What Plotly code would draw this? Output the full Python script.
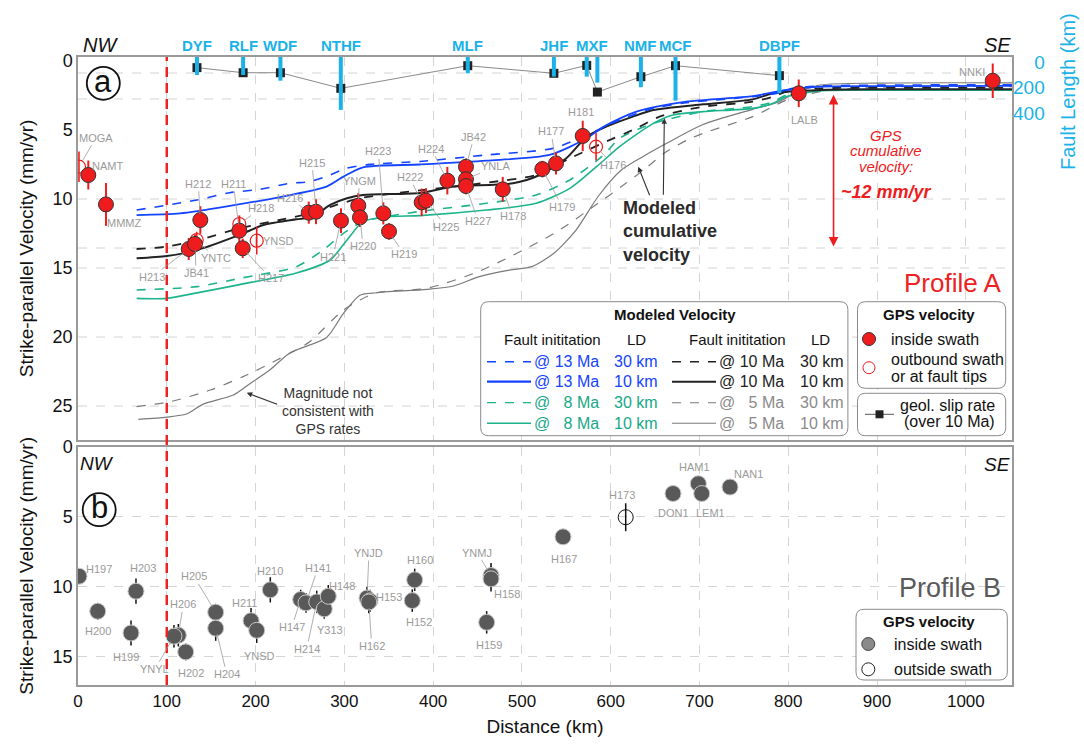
import plotly.graph_objects as go

# ---------------- DATA ----------------
# Faults (Profile A): position along profile (km), geological slip rate (mm/yr), fault length (km)
fault_names = ["DYF", "RLF", "WDF", "NTHF", "MLF", "JHF", "MXF", "MXF", "NMF", "MCF", "DBPF"]
fault_dist = [134, 186, 228, 296, 439, 536, 573, 585, 634, 673, 790]
fault_slip = [0.48, 0.85, 0.85, 1.98, 0.34, 0.89, 0.32, 2.25, 1.14, 0.34, 1.06]
fault_len = [102, 102, 147, 376, 89, 115, 115, 162, 198, 303, 245]

# Profile A GPS stations
a_names = ["MOGA", "NAMT", "MMMZ", "H212", "H213", "JB41", "YNTC", "H211", "H218", "H217", "YNSD",
           "H216", "H215", "H221", "YNGM", "H220", "H223", "H219", "H222", "H225", "H224", "JB42",
           "YNLA", "H227", "H178", "H179", "H177", "H181", "H176", "LALB", "NNKI"]
a_dist = [1.1, 11.6, 31.5, 137.8, 124.7, 131.8, 133.7, 181.7, 181.7, 185.5, 201.3,
          259.9, 268.1, 296.2, 315.7, 317.6, 343.9, 350.3, 387.1, 392.0, 416.0, 437.0,
          437.0, 437.0, 478.4, 523.0, 538.4, 568.5, 583.5, 811.8, 1030.3]
a_vel = [7.66, 8.26, 10.39, 11.52, 13.62, 13.26, 12.97, 12.29, 11.81, 13.57, 13.02,
         10.99, 10.92, 11.57, 10.48, 11.33, 11.04, 12.35, 10.24, 10.12, 8.67, 7.66,
         8.57, 9.06, 9.30, 7.83, 7.42, 5.43, 6.21, 2.34, 1.43]
a_err = [1.1, 1.05, 1.55, 1.0, 0.8, 0.7, 0.6, 1.1, 0.5, 0.7, 1.0,
         0.8, 0.9, 0.9, 0.9, 0.7, 0.8, 0.6, 1.0, 0.9, 1.0, 0.6,
         0.5, 0.6, 0.9, 0.6, 0.8, 1.1, 1.0, 1.0, 1.25]
a_inside = [0, 1, 1, 1, 1, 1, 0, 1, 0, 1, 0,
            1, 1, 1, 1, 1, 1, 1, 1, 1, 1, 1,
            1, 1, 1, 1, 1, 1, 0, 1, 1]

# Profile B GPS stations
b_names = ["H197", "H200", "H203", "H199", "H206", "YNYL", "H202", "H205", "H204", "H211", "YNSD",
           "H210", "H147", "H141", "H214", "Y313", "H148", "YNJD", "H153", "H162", "H152", "H160",
           "YNMJ", "H158", "H159", "H167", "H173", "DON1", "HAM1", "LEM1", "NAN1"]
b_dist = [1.1, 22.2, 65.3, 59.7, 113.0, 108.1, 121.3, 155.1, 155.1, 194.9, 201.3,
          216.6, 250.8, 256.8, 268.9, 277.4, 281.9, 325.5, 328.8, 327.5, 376.5, 379.2,
          465.2, 465.2, 460.3, 546.3, 616.9, 670.2, 698.7, 702.5, 734.4]
b_vel = [9.24, 11.74, 10.31, 13.29, 13.45, 13.52, 14.64, 11.81, 12.95, 12.41, 13.10,
         10.21, 10.90, 11.14, 11.07, 11.57, 10.67, 10.80, 11.00, 11.08, 10.98, 9.50,
         9.19, 9.43, 12.53, 6.43, 5.03, 3.34, 2.64, 3.34, 2.88]
b_err = [0.5, 0.6, 0.9, 0.9, 0.8, 0.8, 0.6, 0.6, 0.9, 0.9, 0.9,
         0.9, 0.7, 0.7, 0.8, 0.7, 0.8, 0.8, 0.8, 0.8, 0.8, 0.8,
         0.9, 0.9, 0.8, 0.5, 1.0, 0.2, 0.3, 0.3, 0.5]
b_inside = [1] * 26 + [0] + [1] * 4

# Modeled cumulative velocity (fault initiation age / locking depth)
m13_30_x = [66, 134, 171, 205, 239, 261, 284, 302, 329, 385, 460, 535, 573, 610, 648, 685, 760, 790, 805, 836, 900, 1052]
m13_30_v = [10.8, 10.07, 9.54, 9.3, 8.86, 8.74, 8.26, 7.78, 7.49, 7.28, 6.81, 6.33, 5.36, 4.28, 3.43, 3.02, 2.58, 2.3, 1.98, 1.81, 1.75, 1.72]
m13_10_x = [66, 115, 171, 239, 280, 299, 321, 385, 460, 531, 573, 592, 629, 685, 760, 798, 836, 900, 1052]
m13_10_v = [11.16, 11.04, 10.5, 9.71, 9.1, 8.38, 7.7, 7.5, 7.22, 6.81, 5.6, 4.76, 3.67, 2.95, 2.54, 2.1, 1.86, 1.82, 1.8]
m10_30_x = [66, 100, 134, 182, 227, 265, 291, 321, 385, 460, 516, 554, 592, 629, 655, 704, 760, 783, 798, 836, 900, 1052]
m10_30_v = [13.62, 13.45, 13.0, 12.12, 11.52, 10.99, 10.43, 9.9, 9.38, 8.82, 8.26, 7.05, 5.92, 4.88, 4.03, 3.31, 2.95, 2.58, 2.22, 1.98, 1.95, 1.95]
m10_10_x = [66, 100, 134, 182, 209, 246, 265, 284, 303, 321, 385, 423, 490, 520, 550, 573, 595, 625, 648, 704, 760, 783, 836, 900, 1052]
m10_10_v = [14.3, 14.13, 13.7, 12.6, 11.88, 11.47, 11.28, 10.43, 9.95, 9.71, 9.56, 9.1, 8.86, 8.26, 7.05, 5.49, 4.76, 4.03, 3.55, 3.14, 2.78, 2.34, 2.1, 2.05, 2.05]
m8_30_x = [66, 134, 182, 246, 276, 299, 321, 385, 460, 516, 554, 592, 610, 648, 704, 760, 783, 798, 836, 900, 1052]
m8_30_v = [16.59, 16.35, 15.75, 14.9, 13.7, 12.49, 11.64, 10.9, 10.31, 9.71, 8.62, 6.81, 5.6, 4.52, 3.67, 3.31, 2.95, 2.46, 2.15, 2.1, 2.1]
m8_10_x = [66, 100, 134, 182, 246, 284, 303, 321, 348, 385, 460, 516, 554, 584, 610, 648, 670, 704, 760, 783, 798, 836, 900, 1052]
m8_10_v = [17.2, 17.2, 16.8, 16.2, 15.36, 14.42, 12.97, 11.64, 11.28, 11.2, 10.8, 10.31, 9.23, 7.66, 6.21, 4.52, 3.91, 3.67, 3.43, 3.07, 2.58, 2.15, 2.12, 2.12]
m5_30_x = [66, 104, 149, 186, 224, 261, 299, 336, 393, 453, 536, 586, 612, 637, 662, 687, 704, 760, 798, 836, 900, 1052]
m5_30_v = [25.04, 24.68, 23.84, 22.87, 21.67, 20.34, 18.04, 16.79, 16.47, 15.2, 12.5, 10.3, 9.1, 7.9, 6.6, 5.7, 5.24, 4.03, 2.83, 2.22, 1.9, 1.85]
m5_10_x = [68, 100, 122, 141, 175, 194, 216, 239, 280, 299, 318, 336, 393, 423, 453, 486, 511, 536, 561, 586, 612, 637, 662, 704, 760, 790, 805, 836, 900, 1052]
m5_10_v = [25.96, 25.8, 25.58, 24.86, 24.2, 23.36, 22.39, 21.14, 20.03, 18.29, 16.96, 16.79, 16.54, 16.3, 15.6, 15.15, 14.9, 13.93, 12.25, 9.8, 7.9, 6.9, 6.0, 4.6, 3.5, 2.95, 2.39, 1.74, 1.6, 1.58]

# ---------------- STYLE / LAYOUT HELPERS ----------------
FONT = "Liberation Sans, Arial, sans-serif"
BLUE, BLACK, GREEN, GRAY = "#1444ff", "#222222", "#1db48c", "#7a7a7a"
RED, CYAN, LBL = "#ee1c1c", "#1ab2e8", "#9a9a9a"
L, R, T, B, W, H = 78, 72, 57, 59, 1084, 744
PW, PH = W - L - R, H - T - B


def PX(px):
    return (px - L) / PW


def PY(py):
    return (H - B - py) / PH


# label offsets in pixels (dx, dy, leader line)
a_lab = {"MOGA": (17, -29, 1), "NAMT": (19, -9, 0), "MMMZ": (18, 19, 0), "H212": (-2, -36, 1),
         "H211": (-6, -47, 1), "H218": (22, -16, 1), "H213": (-37, 28, 1), "JB41": (1, 29, 1),
         "YNTC": (19, 18, 1), "H217": (28, 30, 1), "YNSD": (22, 0, 0), "H216": (-19, -15, 1),
         "H215": (-4, -49, 1), "H221": (-8, 36, 1), "YNGM": (1, -25, 1), "H220": (3, 29, 1),
         "H223": (-5, -62, 1), "H219": (15, 23, 1), "H222": (-12, -25, 1), "H225": (20, 26, 1),
         "H224": (-16, -32, 1), "JB42": (8, -30, 1), "YNLA": (30, -13, 1), "H227": (12, 35, 1),
         "H178": (10, 27, 1), "H179": (20, 38, 1), "H177": (-5, -32, 1), "H181": (-2, -24, 0),
         "H176": (17, 18, 1), "LALB": (6, 27, 0), "NNKI": (-21, -9, 0)}
b_lab = {"H197": (20, -7, 0), "H200": (0, 20, 0), "H203": (7, -23, 0), "H199": (-5, 24, 0),
         "H206": (5, -31, 1), "YNYL": (-19, 33, 1), "H202": (5, 21, 0), "H205": (-22, -36, 1),
         "H204": (11, 46, 1), "H211": (-7, -18, 0), "YNSD": (3, 26, 0), "H210": (0, -19, 0),
         "H147": (-9, 28, 1), "H141": (12, -35, 1), "H214": (-10, 47, 1), "Y313": (6, 21, 0),
         "H148": (14, -10, 0), "YNJD": (2, -45, 1), "H153": (19, -4, 0), "H162": (3, 44, 1),
         "H152": (7, 21, 0), "H160": (5, -20, 0), "YNMJ": (-14, -23, 1), "H158": (16, 15, 0),
         "H159": (2, 23, 0), "H167": (1, 22, 0), "H173": (-4, -22, 0), "DON1": (0, 19, 0),
         "HAM1": (-4, -17, 0), "LEM1": (9, 19, 0), "NAN1": (18, -13, 0)}

fig = go.Figure()

# fault length bars (right axis)
FL_TOP = -39
bx, by = [], []
for xd, ln in zip(fault_dist, fault_len):
    bx += [xd, xd, None]
    by += [FL_TOP, ln, None]
fig.add_trace(go.Scatter(x=bx, y=by, mode="lines", line=dict(color=CYAN, width=4),
                         xaxis="x", yaxis="y3", hoverinfo="skip", showlegend=False))

# geological slip rates
fig.add_trace(go.Scatter(x=fault_dist, y=fault_slip, mode="lines+markers",
                         line=dict(color="#8a8a8a", width=1),
                         marker=dict(symbol="square", size=9, color="#222222"),
                         xaxis="x", yaxis="y", hoverinfo="skip", showlegend=False))

models = [
    (m5_30_x, m5_30_v, GRAY, "dash", 1.2),
    (m5_10_x, m5_10_v, GRAY, "solid", 1.2),
    (m8_30_x, m8_30_v, GREEN, "dash", 1.6),
    (m8_10_x, m8_10_v, GREEN, "solid", 1.6),
    (m10_30_x, m10_30_v, BLACK, "dash", 1.8),
    (m10_10_x, m10_10_v, BLACK, "solid", 2.0),
    (m13_30_x, m13_30_v, BLUE, "dash", 1.6),
    (m13_10_x, m13_10_v, BLUE, "solid", 1.8),
]
for x, v, c, d, w in models:
    fig.add_trace(go.Scatter(x=x, y=v, mode="lines",
                             line=dict(color=c, dash=d, width=w, shape="spline", smoothing=0.7),
                             xaxis="x", yaxis="y", hoverinfo="skip", showlegend=False))


def sel(lst, flags, val):
    return [e for e, f in zip(lst, flags) if f == val]


# Profile A points
fig.add_trace(go.Scatter(x=sel(a_dist, a_inside, 0), y=sel(a_vel, a_inside, 0), mode="markers",
                         error_y=dict(type="data", array=sel(a_err, a_inside, 0), color=RED, thickness=1.6, width=0),
                         marker=dict(size=13, color="rgba(0,0,0,0)", line=dict(color=RED, width=1.2)),
                         xaxis="x", yaxis="y", hoverinfo="skip", showlegend=False))
fig.add_trace(go.Scatter(x=sel(a_dist, a_inside, 1), y=sel(a_vel, a_inside, 1), mode="markers",
                         error_y=dict(type="data", array=sel(a_err, a_inside, 1), color=RED, thickness=2, width=0),
                         marker=dict(size=15, color=RED, line=dict(color="#333333", width=1)),
                         xaxis="x", yaxis="y", hoverinfo="skip", showlegend=False))

# Profile B points
fig.add_trace(go.Scatter(x=sel(b_dist, b_inside, 1), y=sel(b_vel, b_inside, 1), mode="markers",
                         error_y=dict(type="data", array=sel(b_err, b_inside, 1), color="#111111", thickness=1.5, width=0),
                         marker=dict(size=16, color="#595959", line=dict(color="#c8c8c8", width=1)),
                         xaxis="x2", yaxis="y2", hoverinfo="skip", showlegend=False))
fig.add_trace(go.Scatter(x=sel(b_dist, b_inside, 0), y=sel(b_vel, b_inside, 0), mode="markers",
                         error_y=dict(type="data", array=sel(b_err, b_inside, 0), color="#111111", thickness=1.5, width=0),
                         marker=dict(size=15, color="rgba(255,255,255,0)", line=dict(color="#111111", width=1)),
                         xaxis="x2", yaxis="y2", hoverinfo="skip", showlegend=False))

ann = []
shapes = []

# station labels
for n, xd, v in zip(a_names, a_dist, a_vel):
    dx, dy, lead = a_lab[n]
    ann.append(dict(x=xd, y=v, xref="x", yref="y", text=n, showarrow=True, arrowhead=0,
                    arrowwidth=0.8, arrowcolor=LBL if lead else "rgba(0,0,0,0)", standoff=6,
                    ax=dx, ay=dy, font=dict(size=11, color=LBL, family=FONT)))
for n, xd, v in zip(b_names, b_dist, b_vel):
    dx, dy, lead = b_lab[n]
    ann.append(dict(x=xd, y=v, xref="x2", yref="y2", text=n, showarrow=True, arrowhead=0,
                    arrowwidth=0.8, arrowcolor=LBL if lead else "rgba(0,0,0,0)", standoff=6,
                    ax=dx, ay=dy, font=dict(size=11, color=LBL, family=FONT)))


def txt(s, px, py, size=15, color="#111111", anchor="center", bold=False, italic=False, angle=0):
    if bold:
        s = "<b>%s</b>" % s
    if italic:
        s = "<i>%s</i>" % s
    ann.append(dict(x=PX(px), y=PY(py), xref="paper", yref="paper", xanchor=anchor, yanchor="middle",
                    text=s, showarrow=False, textangle=angle,
                    font=dict(size=size, color=color, family=FONT)))


# fault names
seen = set()
for n, xd in zip(fault_names, fault_dist):
    if n in seen:
        continue
    seen.add(n)
    xs = [d for nn, d in zip(fault_names, fault_dist) if nn == n]
    ann.append(dict(x=sum(xs) / len(xs), y=PY(45), xref="x", yref="paper", text="<b>%s</b>" % n,
                    xanchor="center", yanchor="middle",
                    showarrow=False, font=dict(size=15, color=CYAN, family=FONT)))

# direction labels & panel letters
txt("NW", 100, 45, 20, italic=True)
txt("SE", 997, 45, 20, italic=True)
txt("NW", 97, 463, 19, italic=True)
txt("SE", 997, 464, 19, italic=True)
for s, px, py in [("a", 103.3, 83.3), ("b", 99.2, 509.7)]:
    shapes.append(dict(type="circle", xref="paper", yref="paper", xsizemode="pixel", ysizemode="pixel",
                       xanchor=PX(px), yanchor=PY(py), x0=-16.5, x1=16.5, y0=-16.5, y1=16.5,
                       line=dict(color="#111111", width=1.8)))
    txt(s, px, py - 2, 31)

# profile names
txt("Profile A", 1003, 283, 26, "#ee2222", anchor="right")
txt("Profile B", 1003, 588, 27, "#5a5a5a", anchor="right")

# GPS cumulative velocity annotation
txt("GPS", 886, 135, 15, RED, italic=True)
txt("cumulative", 886, 150.5, 15, RED, italic=True)
txt("velocity:", 886, 166, 15, RED, italic=True)
txt("<b><i>~12 mm/yr</i></b>", 886, 192, 18, RED)
ann.append(dict(x=851, y=2.45, xref="x", yref="y", ax=851, ay=13.55, axref="x", ayref="y", text="",
                showarrow=True, arrowhead=2, startarrowhead=2, arrowside="end+start", arrowsize=1.2,
                arrowwidth=1.6, arrowcolor=RED))

# modeled cumulative velocity note
ann.append(dict(x=PX(621), y=PY(231), xref="paper", yref="paper", xanchor="left", yanchor="middle",
                text="<b>Modeled<br>cumulative<br>velocity</b>", align="left", showarrow=False,
                font=dict(size=18, color="#2a2a2a", family=FONT)))
ann.append(dict(x=631, y=7.66, xref="x", yref="y", ax=12, ay=30, text="", showarrow=True,
                arrowhead=2, arrowsize=1, arrowwidth=1.1, arrowcolor="#333333"))
ann.append(dict(x=660.4, y=4.15, xref="x", yref="y", ax=-1, ay=78, text="", showarrow=True,
                arrowhead=2, arrowsize=1, arrowwidth=1.1, arrowcolor="#333333"))

# magnitude note
ann.append(dict(x=PX(328), y=PY(410.5), xref="paper", yref="paper", xanchor="center", yanchor="middle",
                text="Magnitude not<br>consistent with<br>GPS rates", showarrow=False,
                font=dict(size=14, color="#333333", family=FONT)))
ann.append(dict(x=190, y=24.04, xref="x", yref="y", ax=32, ay=12, text="", showarrow=True,
                arrowhead=2, arrowsize=1, arrowwidth=1.1, arrowcolor="#333333"))

# fault length axis title
txt("Fault Length (km)", 1068, 92, 20, CYAN, angle=-90)

# extra horizontal dashed grid lines (top panel)
for gv in [0.87, 2.75, 10, 13.55, 15, 20, 25]:
    shapes.append(dict(type="line", xref="paper", yref="y", x0=0, x1=1, y0=gv, y1=gv, layer="below",
                       line=dict(color="#d4d4d4", width=1, dash="dash")))

# red dashed reference line at 100 km
shapes.append(dict(type="line", xref="x", yref="paper", x0=100, x1=100, y0=0, y1=1,
                   line=dict(color="#ee2222", width=2.5, dash="10px,6px")))


# ---- legends (drawn) ----
def rbox(x0, y0, x1, y1, r=8):
    X0, X1, Y0, Y1 = PX(x0), PX(x1), PY(y1), PY(y0)
    rx, ry = r / PW, r / PH
    p = (f"M {X0+rx},{Y0} L {X1-rx},{Y0} Q {X1},{Y0} {X1},{Y0+ry} L {X1},{Y1-ry} Q {X1},{Y1} {X1-rx},{Y1} "
         f"L {X0+rx},{Y1} Q {X0},{Y1} {X0},{Y1-ry} L {X0},{Y0+ry} Q {X0},{Y0} {X0+rx},{Y0} Z")
    shapes.append(dict(type="path", path=p, xref="paper", yref="paper", fillcolor="white",
                       line=dict(color="#8a8a8a", width=1)))


def seg(x0, x1, py, color, dash, width):
    shapes.append(dict(type="line", xref="paper", yref="paper", x0=PX(x0), x1=PX(x1), y0=PY(py), y1=PY(py),
                       line=dict(color=color, dash=dash, width=width)))


def dot(px, py, r, fill, line, lw=1):
    shapes.append(dict(type="circle", xref="paper", yref="paper", xsizemode="pixel", ysizemode="pixel",
                       xanchor=PX(px), yanchor=PY(py), x0=-r, x1=r, y0=-r, y1=r,
                       fillcolor=fill, line=dict(color=line, width=lw)))


rbox(480.7, 301.7, 847.9, 435.7)
rbox(857.5, 301.7, 1005.7, 388.3)
rbox(857.5, 393.3, 1005.7, 435.7)
rbox(856, 609.3, 1007.3, 680)

txt("Modeled Velocity", 675, 314, 15, bold=True)
txt("Fault inititation", 552, 339, 15)
txt("LD", 636, 339, 15)
txt("Fault inititation", 737, 339, 15)
txt("LD", 820, 339, 15)
NB = "\u00a0"
rows = [
    (361.7, BLUE, "dash", 1.4, "@ 13 Ma", "30 km", BLACK, "dash", 1.4, "@ 10 Ma", "30 km", BLUE, BLACK),
    (381.7, BLUE, "solid", 2.2, "@ 13 Ma", "10 km", BLACK, "solid", 2.0, "@ 10 Ma", "10 km", BLUE, BLACK),
    (402.7, GREEN, "dash", 1.2, "@" + NB * 3 + "8 Ma", "30 km", GRAY, "dash", 1.1, "@" + NB * 3 + "5 Ma", "30 km", "#17a888", "#8a8a8a"),
    (423.3, GREEN, "solid", 1.4, "@" + NB * 3 + "8 Ma", "10 km", GRAY, "solid", 1.1, "@" + NB * 3 + "5 Ma", "10 km", "#17a888", "#8a8a8a"),
]
for py, c1, d1, w1, t1, l1, c2, d2, w2, t2, l2, tc1, tc2 in rows:
    seg(487, 531, py, c1, d1, w1)
    txt(t1, 601, py, 16, tc1, anchor="right")
    txt(l1, 636, py, 16, tc1)
    seg(672, 716, py, c2, d2, w2)
    txt(t2, 786, py, 16, tc2, anchor="right")
    txt(l2, 822, py, 16, tc2)

txt("GPS velocity", 929, 314, 15, bold=True)
dot(869, 339, 6.5, RED, "#333333")
txt("inside swath", 889, 339, 16, anchor="left")
dot(869, 367.7, 6, "white", RED)
txt("outbound swath", 889, 360, 16, anchor="left")
txt("or at fault tips", 889, 376, 16, anchor="left")
seg(865, 894, 414.3, "#555555", "solid", 1)
shapes.append(dict(type="rect", xref="paper", yref="paper", x0=PX(875.5), x1=PX(883.5), y0=PY(418.3), y1=PY(410.3),
                   fillcolor="#222222", line=dict(width=0)))
txt("geol. slip rate", 997, 405, 16, anchor="right")
txt("(over 10 Ma)", 997, 422, 16, anchor="right")

txt("GPS velocity", 929.3, 621.7, 15, bold=True)
dot(868.3, 644, 6.5, "#8a8a8a", "#444444")
txt("inside swath", 891.7, 644, 16, anchor="left")
dot(868.3, 669.3, 6.5, "white", "#222222")
txt("outside swath", 891.7, 669, 16, anchor="left")

# ---------------- LAYOUT ----------------
TOP_DOM = [PY(440), 1.0]
BOT_DOM = [0.0, PY(446.7)]
axis_common = dict(showline=True, mirror=True, linecolor="#9a9a9a", linewidth=1.5, zeroline=False,
                   ticks="", automargin=False)
fig.update_layout(
    width=W, height=H, margin=dict(l=L, r=R, t=T, b=B, autoexpand=False),
    paper_bgcolor="white", plot_bgcolor="white",
    font=dict(family=FONT, color="#111111"),
    showlegend=False,
    xaxis=dict(domain=[0, 1], range=[0, 1052], anchor="y", showticklabels=False, dtick=100,
               showgrid=True, gridcolor="#d4d4d4", griddash="dash", gridwidth=1, **axis_common),
    yaxis=dict(domain=TOP_DOM, range=[27.46, -0.29], anchor="x", tickvals=[0, 5, 10, 15, 20, 25],
               showgrid=False, tickfont=dict(size=18),
               title=dict(text="Strike-parallel Velocity (mm/yr)", font=dict(size=19), standoff=14),
               **axis_common),
    yaxis3=dict(overlaying="y", side="right", anchor="x", range=[2965, -39], tickvals=[0, 200, 400],
                ticktext=["\u2007\u20070", "200", "400"], tickfont=dict(size=19, color=CYAN),
                showgrid=False, showline=False, zeroline=False, ticks="", automargin=False),
    xaxis2=dict(domain=[0, 1], range=[0, 1052], anchor="y2", dtick=100, tickfont=dict(size=17),
                showgrid=True, gridcolor="#d4d4d4", griddash="dash", gridwidth=1,
                title=dict(text="Distance (km)", font=dict(size=19), standoff=10), **axis_common),
    yaxis2=dict(domain=BOT_DOM, range=[17, 0], anchor="x2", tickvals=[0, 5, 10, 15],
                showgrid=True, gridcolor="#d4d4d4", griddash="dash", tickfont=dict(size=18),
                title=dict(text="Strike-parallel Velocity (mm/yr)", font=dict(size=19), standoff=14),
                **axis_common),
    annotations=ann,
    shapes=shapes,
)

fig.write_html("out.html", config={"displayModeBar": False},
               post_script="document.body.style.margin='0';document.body.style.padding='0';")
